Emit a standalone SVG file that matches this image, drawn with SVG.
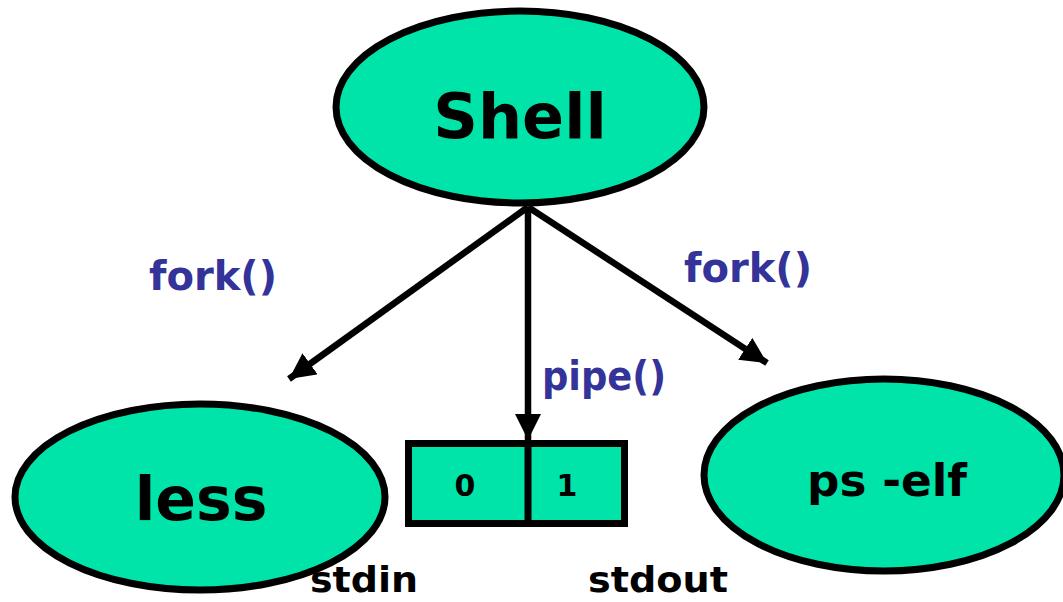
<svg xmlns="http://www.w3.org/2000/svg" width="1063" height="602" viewBox="0 0 1063 602">
<style>
.node{fill:#00E4AA;stroke:#000;stroke-width:7}
.t{font-family:"DejaVu Sans","Noto Sans",sans-serif;font-weight:bold;fill:#000;text-anchor:middle}
.lbl{font-family:"DejaVu Sans","Noto Sans",sans-serif;font-weight:bold;fill:#333399;text-anchor:middle}
.edge{stroke:#000;stroke-width:6.5;fill:none}
</style>
<defs>
<marker id="ah" viewBox="0 0 10 10" refX="10" refY="5" markerWidth="4" markerHeight="4" markerUnits="strokeWidth" orient="auto">
<path d="M0,0 L10,5 L0,10 z" fill="#000"/>
</marker>
</defs>
<rect width="1063" height="602" fill="#fff"/>
<g id="connectors">
<line class="edge" x1="528" y1="207" x2="289" y2="379" marker-end="url(#ah)"/>
<line class="edge" x1="528" y1="207" x2="528" y2="440" marker-end="url(#ah)"/>
<line class="edge" x1="528" y1="207" x2="767" y2="363" marker-end="url(#ah)"/>
<text class="lbl" x="213" y="290" font-size="40" textLength="128" lengthAdjust="spacingAndGlyphs">fork()</text>
<text class="lbl" x="748" y="282" font-size="40" textLength="128" lengthAdjust="spacingAndGlyphs">fork()</text>
<text class="lbl" x="604" y="390" font-size="40" textLength="124" lengthAdjust="spacingAndGlyphs">pipe()</text>
</g>
<g id="shell">
<ellipse class="node" cx="520" cy="107" rx="184" ry="96"/>
<text class="t" x="520" y="138" font-size="62">Shell</text>
</g>
<g id="less">
<ellipse class="node" cx="200" cy="497" rx="185" ry="93"/>
<text class="t" x="201" y="520" font-size="60">less</text>
</g>
<g id="ps">
<ellipse class="node" cx="884" cy="475" rx="180" ry="96"/>
<text class="t" x="887" y="496" font-size="44" textLength="160" lengthAdjust="spacingAndGlyphs">ps -elf</text>
</g>
<g id="pipe">
<rect class="node" x="408.5" y="443.5" width="216" height="80"/>
<line x1="528" y1="443" x2="528" y2="524" stroke="#000" stroke-width="7"/>
<text class="t" x="465" y="496" font-size="30">0</text>
<text class="t" x="567" y="496" font-size="30">1</text>
</g>
<g id="stdin">
<text class="t" x="364" y="592" font-size="36" textLength="108" lengthAdjust="spacingAndGlyphs">stdin</text>
</g>
<g id="stdout">
<text class="t" x="658" y="592" font-size="36" textLength="140" lengthAdjust="spacingAndGlyphs">stdout</text>
</g>
</svg>
